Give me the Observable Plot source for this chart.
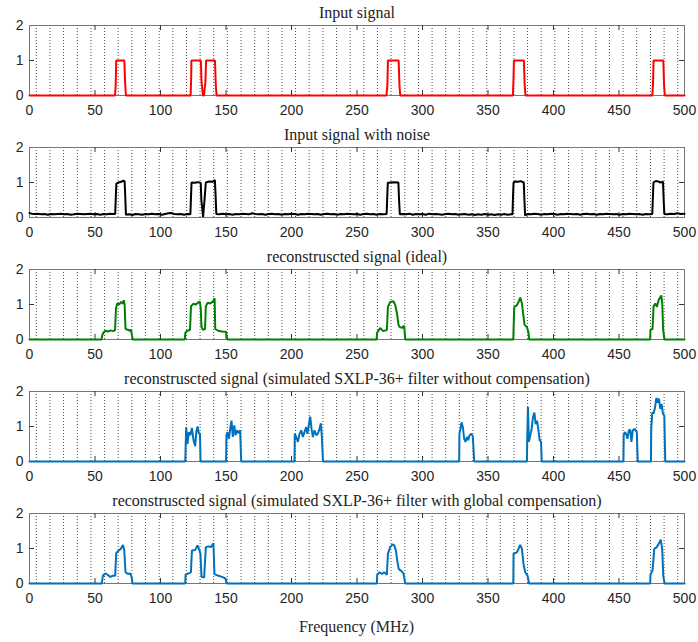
<!DOCTYPE html>
<html>
<head>
<meta charset="utf-8">
<script src="https://cdn.jsdelivr.net/npm/d3@7"></script>
<script src="https://cdn.jsdelivr.net/npm/@observablehq/plot@0.6"></script>
<style>
  body { margin: 0; background: #fff; }
  #chart { width: 698px; }
  #chart svg { display: block; }
  .xlabel { width: 655px; padding: 8px 14px 0 29px; text-align: center;
            font-family: "Liberation Serif", serif; font-size: 16px; color: #262626; line-height: 18px; }
</style>
</head>
<body>
<div id="chart"></div>
<script>
// ---------- axis / grid ----------
const xTicks = [0, 50, 100, 150, 200, 250, 300, 350, 400, 450, 500];
const yTicks = [0, 1, 2];
const channelCenters = [5.2, 15.6, 26.0, 36.5, 46.9, 57.3, 67.7, 78.1, 88.5, 99.0, 109.4, 119.8,
  130.2, 140.6, 151.0, 161.5, 171.9, 182.3, 192.7, 203.1, 213.5, 224.0, 234.4, 244.8,
  255.2, 265.6, 276.0, 286.5, 296.9, 307.3, 317.7, 328.1, 338.5, 349.0, 359.4, 369.8,
  380.2, 390.6, 401.0, 411.5, 421.9, 432.3, 442.7, 453.1, 463.5, 474.0, 484.4, 494.8];

const titles = [
  "Input signal",
  "Input signal with noise",
  "reconstruscted signal (ideal)",
  "reconstruscted signal (simulated SXLP-36+ filter without compensation)",
  "reconstruscted signal (simulated SXLP-36+ filter with global compensation)"
];
const xLabel = "Frequency (MHz)";

// ---------- series: [frequency MHz, amplitude] ----------
const inputSignal = [[0,0],[65.3,0],[65.8,0.3],[66.2,1],[72.4,1],[73,0.35],[73.6,0],
  [123,0],[123.4,0.5],[123.6,1],[130.8,1],[131.3,0.4],[132.4,0],[133.2,0],[134.3,0.4],[134.8,1],
  [141.6,1],[142.2,0.3],[142.8,0],[272.5,0],[273.2,0.3],[273.6,1],[281.8,1],[282.4,0.3],[283,0],
  [369,0],[369.4,0.4],[369.8,1],[377.4,1],[378,0.3],[378.6,0],[475.5,0],[476,0.4],[476.4,1],
  [483.8,1],[484.4,0.3],[485,0],[500,0]];

const noisySignal = [[0,0.13],[1.5,0.11],[4,0.10],[6.5,0.11],[9,0.09],[11.5,0.10],[14,0.08],[16.5,0.10],
  [19,0.09],[21.5,0.10],[24,0.11],[26.5,0.09],[29,0.10],[31.5,0.08],[34,0.09],[36.5,0.11],[39,0.10],
  [41.5,0.09],[44,0.10],[46.5,0.11],[49,0.09],[51.5,0.10],[54,0.08],[56.5,0.10],[59,0.09],[61.5,0.11],
  [64,0.10],[65.4,0.10],[65.9,0.6],[66.3,0.97],[68,1.0],[70,1.02],[71.5,1.05],[72.6,1.04],[73.1,0.6],
  [73.6,0.08],[76,0.09],[78.5,0.07],[81,0.10],[83.5,0.09],[86,0.08],[88.5,0.10],[91,0.09],[93.5,0.11],
  [96,0.09],[98.5,0.10],[101,0.08],[103.5,0.10],[106,0.12],[108,0.13],[110.5,0.10],[113,0.09],
  [115.5,0.10],[118,0.08],[120.5,0.10],[122.8,0.09],[123.3,0.6],[123.7,1.0],[126,0.99],[128.5,1.01],
  [130.7,0.99],[131.2,0.5],[132.5,0.02],[133.6,0.5],[134.6,1.0],[137,1.03],[139.5,1.02],[141.5,1.07],
  [142.1,0.6],[142.6,0.1],[145,0.09],[147.5,0.11],[150,0.09],[152.5,0.10],[155,0.08],[157.5,0.10],
  [160,0.09],[162.5,0.11],[165,0.10],[167.5,0.09],[170,0.12],[172.5,0.10],[175,0.09],[177.5,0.10],
  [180,0.08],[182.5,0.10],[185,0.11],[187.5,0.09],[190,0.10],[192.5,0.08],[195,0.10],[197.5,0.09],
  [200,0.11],[202.5,0.10],[205,0.08],[207.5,0.10],[210,0.09],[212.5,0.11],[215,0.10],[217.5,0.09],
  [220,0.10],[222.5,0.08],[225,0.10],[227.5,0.11],[230,0.09],[232.5,0.10],[235,0.08],[237.5,0.10],
  [240,0.09],[242.5,0.11],[245,0.10],[247.5,0.09],[250,0.10],[252.5,0.08],[255,0.10],[257.5,0.11],
  [260,0.09],[262.5,0.10],[265,0.08],[267.5,0.10],[270,0.09],[272.6,0.10],[273.1,0.6],[273.5,0.99],
  [276,1.0],[278.5,1.01],[281.6,1.0],[282.1,0.5],[282.7,0.09],[285,0.10],[287.5,0.09],[290,0.11],
  [292.5,0.08],[295,0.10],[297.5,0.09],[300,0.10],[302.5,0.08],[305,0.11],[307.5,0.09],[310,0.10],
  [312.5,0.09],[315,0.08],[317.5,0.10],[320,0.11],[322.5,0.09],[325,0.10],[327.5,0.08],[330,0.09],
  [332.5,0.10],[335,0.08],[337.5,0.09],[340,0.07],[342.5,0.09],[345,0.08],[347.5,0.10],[350,0.08],
  [352.5,0.09],[355,0.07],[357.5,0.09],[360,0.08],[362.5,0.10],[365,0.08],[367.5,0.09],[368.7,0.09],
  [369.1,0.6],[369.5,1.0],[371,1.03],[373,1.02],[375,1.04],[377.3,1.0],[377.8,0.5],[378.3,0.06],
  [380.5,0.10],[383,0.09],[385.5,0.11],[388,0.10],[390.5,0.08],[393,0.10],[395.5,0.09],[398,0.11],
  [400.5,0.10],[403,0.08],[405.5,0.10],[408,0.09],[410.5,0.11],[413,0.10],[415.5,0.09],[418,0.10],
  [420.5,0.08],[423,0.10],[425.5,0.11],[428,0.09],[430.5,0.10],[433,0.08],[435.5,0.10],[438,0.09],
  [440.5,0.11],[443,0.10],[445.5,0.09],[448,0.10],[450.5,0.08],[453,0.10],[455.5,0.09],[458,0.11],
  [460.5,0.10],[463,0.09],[465.5,0.10],[468,0.08],[470.5,0.10],[473,0.09],[475.4,0.10],[475.9,0.6],
  [476.3,1.0],[478,1.04],[480,1.03],[481.5,1.0],[483.6,1.02],[484.1,0.5],[484.6,0.1],[487,0.09],
  [489.5,0.11],[492,0.10],[494.5,0.12],[497,0.10],[500,0.11]];

const idealRecon = [[0,0],[55,0],[55.5,0.12],[56.5,0.2],[58,0.25],[60,0.23],[62,0.26],[64,0.24],
  [65.3,0.27],[66,0.9],[67,1.03],[68.5,1.0],[70,1.08],[71,1.02],[72,1.12],[72.6,1.0],[73.3,0.3],
  [75,0.28],[76.5,0.25],[77.5,0.28],[78.3,0.1],[78.8,0],[118.5,0],[119,0.2],[120.5,0.25],[122.5,0.27],
  [123.3,0.95],[125,1.02],[127,1.0],[128.5,1.05],[130,1.08],[130.7,0.9],[131.3,0.35],[132.5,0.28],
  [134,0.3],[134.6,0.95],[136,1.05],[138,1.03],[140,1.08],[141.3,1.18],[141.8,0.3],[144,0.25],
  [147,0.23],[150,0.22],[151,0],[265,0],[265.3,0.19],[267.7,0.33],[270,0.24],[272.8,0.27],[273.6,0.93],
  [275.3,1.07],[277.9,1.09],[279.2,0.98],[280.5,0.75],[281.7,0.42],[282.4,0.36],[284.3,0.33],
  [286,0.39],[286.8,0],[369.3,0],[370,0.92],[372,0.98],[373.3,1.07],[374.6,1.2],[375.9,1.03],
  [377.1,0.65],[377.9,0.42],[379.7,0.36],[380.9,0.2],[381.4,0],[473.8,0],[474,0.28],[475.6,0.3],
  [476.4,0.95],[477.7,1.03],[478.9,0.93],[480.2,1.12],[481.5,1.21],[482.3,1.26],[483,1.03],
  [483.7,0.28],[484.7,0],[500,0]];

const noCompRecon = [[0,0],[118.9,0],[119.6,0.98],[120.6,0.5],[121.6,0.84],[122.7,0.75],[124,0.96],
  [125.2,0.61],[126.5,0.44],[127.3,0.84],[128.3,1.0],[129.3,0.79],[130.1,0.81],[130.6,0],[150.1,0],
  [150.3,0.75],[151.1,0.84],[152.2,0.65],[153.2,0.93],[154.2,1.17],[155.2,0.7],[156.3,1.03],
  [157.3,0.75],[158.3,0.89],[159.6,0.81],[160.8,0.89],[161.6,0],[202.3,0],[202.5,0.79],[203.6,0.7],
  [204.9,0.56],[206.1,0.79],[207.4,0.89],[208.7,0.7],[209.9,0.84],[211.2,0.98],[212.2,0.79],
  [213.3,1.07],[214.3,1.28],[215.3,0.93],[216.3,0.7],[217.6,0.89],[218.9,0.75],[220.1,0.79],
  [221.4,0.93],[222.4,1.09],[223.2,0.7],[224,0],[328,0],[328.2,0.79],[328.8,0.89],[329.8,1.12],
  [330.8,0.98],[331.8,0.65],[332.9,0.56],[333.9,0.7],[334.9,0.61],[335.9,0.75],[337.2,0.79],
  [338.4,0.72],[339.5,0],[379.7,0],[379.9,0.56],[380.5,1.56],[381.2,0.56],[382.3,0.75],[383.3,0.93],
  [384.3,1.26],[385.4,1.4],[386.4,1.07],[387.4,1.17],[388.4,0.93],[389.4,0.61],[390.5,0.56],[391,0],
  [453.4,0],[453.6,0.75],[454.4,0.84],[455.4,0.79],[456.4,0.65],[457.5,0.89],[458.5,0.91],[459.5,0.56],
  [460.5,0.89],[462.1,0.93],[463.6,0.84],[464.3,0],[474.4,0],[474.6,0.93],[475.4,1.4],[476.4,1.37],
  [477.5,1.54],[478.5,1.82],[479.5,1.68],[480.5,1.8],[481.5,1.5],[482.5,1.64],[483.6,1.36],
  [484.6,1.31],[485.3,0],[500,0]];

const globalCompRecon = [[0,0],[55.2,0],[56,0.22],[57.8,0.29],[59.6,0.25],[61.6,0.19],[63.6,0.22],
  [65.4,0.22],[66.2,0.87],[68,0.94],[69.7,0.99],[71.3,1.1],[72.3,0.96],[73.3,0.32],[75.1,0.27],
  [76.9,0.29],[78.1,0.17],[78.6,0],[118.9,0],[119.1,0.25],[121.4,0.29],[123.2,0.32],[124,0.94],
  [126.5,0.96],[128.3,1.09],[129.8,0.94],[130.5,0.85],[131.3,0.19],[133.3,0.17],[134.6,1.04],
  [136.6,1.06],[138.4,1.04],[140.4,1.15],[141.2,0.27],[144.3,0.22],[146.9,0.19],[149.4,0.15],
  [150.7,0],[265.2,0],[265.4,0.25],[267.2,0.32],[269,0.27],[270.8,0.32],[272.8,0.25],[273.6,0.85],
  [275.3,1.04],[277.1,1.12],[278.4,1.09],[279.7,0.94],[280.9,0.61],[281.9,0.41],[283.5,0.37],
  [285.5,0.29],[286.8,0],[369.3,0],[369.5,0.85],[372,0.89],[374.6,1.1],[375.9,0.99],[377.1,0.56],
  [378.4,0.32],[380.2,0.22],[381.4,0],[473.8,0],[474,0.25],[475.6,0.37],[476.9,0.99],[478.9,1.04],
  [480.2,1.13],[481.9,1.25],[483,0.96],[483.8,0.22],[484.8,0],[500,0]];

const seriesList = [inputSignal, noisySignal, idealRecon, noCompRecon, globalCompRecon];
const colors = ["#ff0000", "#000000", "#008000", "#0072bd", "#0072bd"];

// ---------- drawing ----------
function panel(data, color, title) {
  return Plot.plot({
    width: 698,
    height: 122,
    marginTop: 25,
    marginBottom: 27,
    marginLeft: 29,
    marginRight: 14,
    x: { domain: [0, 500] },
    y: { domain: [0, 2] },
    style: { fontFamily: "'Liberation Sans', Arial, sans-serif", fontSize: "14px", color: "#262626", overflow: "visible", background: "#fff" },
    marks: [
      Plot.ruleX(channelCenters, { x: d => d, stroke: "#222", strokeOpacity: 0.8, strokeDasharray: "1,2", strokeWidth: 1 }),
      Plot.frame({ stroke: "#777", strokeWidth: 1 }),
      Plot.tickX(xTicks.slice(1, -1), { x: d => d, insetBottom: 65, stroke: "#333" }),
      Plot.tickX(xTicks.slice(1, -1), { x: d => d, insetTop: 65, stroke: "#333" }),
      Plot.tickY(yTicks.slice(1, -1), { y: d => d, insetRight: 650, stroke: "#333" }),
      Plot.tickY(yTicks.slice(1, -1), { y: d => d, insetLeft: 650, stroke: "#333" }),
      Plot.line(data, { x: d => d[0], y: d => d[1], stroke: color, strokeWidth: 2, strokeLinejoin: "miter" }),
      Plot.axisX(xTicks, { tickSize: 0, tickPadding: 10, fontSize: 14, label: null, fill: "#262626" }),
      Plot.axisY(yTicks, { tickSize: 0, tickPadding: 6, fontSize: 14, label: null, fill: "#262626" }),
      Plot.text([title], { text: d => d, frameAnchor: "top", lineAnchor: "middle", dy: -13, fontFamily: "'Liberation Serif', 'Times New Roman', serif", fontSize: 16, fill: "#222" })
    ]
  });
}

const root = document.getElementById("chart");
seriesList.forEach((s, i) => root.appendChild(panel(s, colors[i], titles[i])));
const lab = document.createElement("div");
lab.className = "xlabel";
lab.textContent = xLabel;
root.appendChild(lab);
</script>
</body>
</html>
